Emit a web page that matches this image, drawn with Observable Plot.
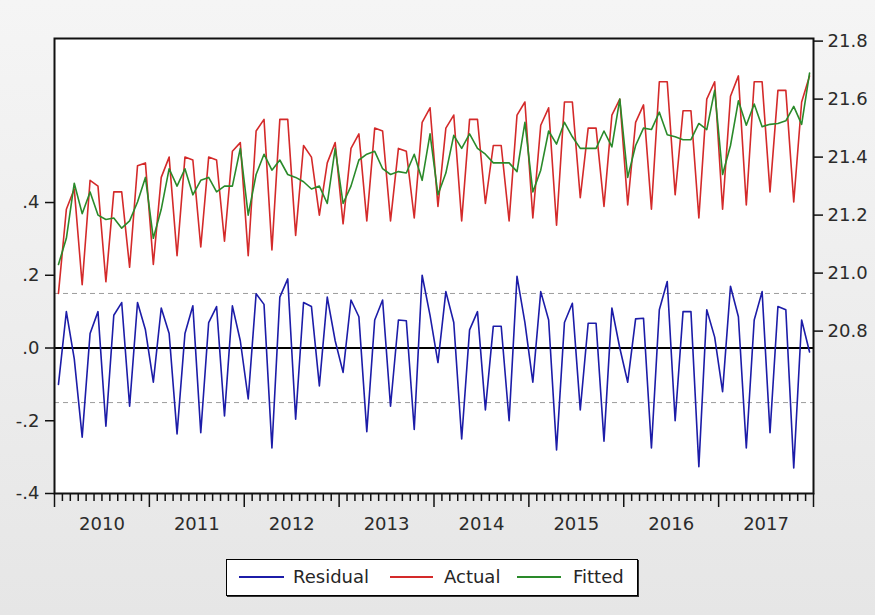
<!DOCTYPE html>
<html>
<head>
<meta charset="utf-8">
<script src="https://cdn.jsdelivr.net/npm/d3@7"></script>
<script src="https://cdn.jsdelivr.net/npm/@observablehq/plot@0.6"></script>
<style>
  html, body { margin: 0; padding: 0; }
  body { width: 875px; height: 615px; background: linear-gradient(#f5f5f5, #e6e6e6); font-family: 'DejaVu Sans', sans-serif; overflow: hidden; }
  #chart { position: absolute; left: 0; top: 0; width: 875px; height: 545px; }
  #chart svg { position: absolute; left: 0; top: 0; }
  #legend { position: absolute; left: 226px; top: 559px; width: 412px; height: 37px; box-sizing: border-box;
            border: 1.5px solid #000; background: #fff; box-shadow: 1px 1px 0 #333; }
  #legend .sw { position: absolute; top: 16px; height: 2px; }
  #legend .tx { position: absolute; top: 6px; font-size: 18px; line-height: 22px; color: #262626; }
</style>
</head>
<body>
<div id="chart"></div>
<div id="legend">
  <div class="sw" style="left:12px;width:45px;background:#1c1ca8"></div><div class="tx" style="left:66px">Residual</div>
  <div class="sw" style="left:163px;width:43px;background:#d42a2a"></div><div class="tx" style="left:217px">Actual</div>
  <div class="sw" style="left:290px;width:44px;background:#2a8a2a"></div><div class="tx" style="left:346px">Fitted</div>
</div>
<script>
// Monthly observations, 2010M01 - 2017M12
const years = ["2010","2011","2012","2013","2014","2015","2016","2017"];

const residual = [
 -0.10, 0.10, -0.03, -0.245, 0.04, 0.10, -0.215, 0.09, 0.125, -0.16, 0.125, 0.05,
 -0.094, 0.11, 0.04, -0.236, 0.04, 0.116, -0.233, 0.07, 0.114, -0.187, 0.116, 0.02,
 -0.14, 0.149, 0.12, -0.275, 0.14, 0.19, -0.196, 0.125, 0.114, -0.104, 0.14, 0.02,
 -0.067, 0.132, 0.086, -0.23, 0.077, 0.132, -0.16, 0.077, 0.075, -0.224, 0.20, 0.09,
 -0.04, 0.155, 0.07, -0.25, 0.05, 0.10, -0.17, 0.06, 0.06, -0.20, 0.197, 0.07,
 -0.094, 0.155, 0.077, -0.28, 0.07, 0.123, -0.17, 0.068, 0.068, -0.256, 0.11, 0.0,
 -0.094, 0.08, 0.082, -0.275, 0.105, 0.183, -0.20, 0.10, 0.10, -0.326, 0.105, 0.03,
 -0.12, 0.17, 0.086, -0.275, 0.077, 0.155, -0.233, 0.114, 0.105, -0.33, 0.077, -0.011
];

const actual = [
 20.93, 21.22, 21.29, 20.96, 21.32, 21.30, 20.97, 21.28, 21.28, 21.02, 21.37, 21.38,
 21.03, 21.33, 21.40, 21.06, 21.40, 21.39, 21.09, 21.40, 21.39, 21.11, 21.42, 21.45,
 21.06, 21.49, 21.53, 21.08, 21.53, 21.53, 21.13, 21.44, 21.40, 21.20, 21.38, 21.45,
 21.17, 21.43, 21.48, 21.18, 21.50, 21.49, 21.18, 21.43, 21.42, 21.19, 21.52, 21.57,
 21.23, 21.50, 21.545, 21.18, 21.53, 21.53, 21.24, 21.44, 21.44, 21.18, 21.545, 21.59,
 21.19, 21.51, 21.57, 21.165, 21.59, 21.59, 21.26, 21.50, 21.50, 21.23, 21.545, 21.60,
 21.235, 21.52, 21.58, 21.22, 21.66, 21.66, 21.27, 21.56, 21.56, 21.19, 21.60, 21.66,
 21.22, 21.61, 21.68, 21.235, 21.66, 21.66, 21.28, 21.63, 21.63, 21.245, 21.59, 21.68
];

const fitted = [
 21.03, 21.12, 21.31, 21.205, 21.28, 21.20, 21.185, 21.19, 21.155, 21.18, 21.245, 21.33,
 21.12, 21.22, 21.36, 21.30, 21.36, 21.27, 21.32, 21.33, 21.28, 21.30, 21.30, 21.43,
 21.20, 21.34, 21.41, 21.355, 21.39, 21.34, 21.33, 21.315, 21.29, 21.30, 21.24, 21.43,
 21.24, 21.30, 21.39, 21.41, 21.42, 21.36, 21.34, 21.35, 21.345, 21.41, 21.32, 21.48,
 21.27, 21.345, 21.475, 21.43, 21.48, 21.43, 21.41, 21.38, 21.38, 21.38, 21.35, 21.52,
 21.28, 21.355, 21.49, 21.445, 21.52, 21.47, 21.43, 21.43, 21.43, 21.49, 21.435, 21.60,
 21.33, 21.44, 21.50, 21.495, 21.555, 21.477, 21.47, 21.46, 21.46, 21.516, 21.495, 21.63,
 21.34, 21.44, 21.594, 21.51, 21.583, 21.505, 21.513, 21.516, 21.525, 21.575, 21.513, 21.69
];

const leftTicks = [-0.4, -0.2, 0, 0.2, 0.4];
const rightTicks = [20.8, 21.0, 21.2, 21.4, 21.6, 21.8];
const seBands = [-0.15, 0.15];

const rows = residual.map((r, i) => ({i, residual: r, actual: actual[i], fitted: fitted[i]}));

const W = 875, H = 545, ML = 54, MR = 62, MT = 38, MB = 52;
const n = residual.length;
const xDomain = [-0.5, n - 0.5];
const boundaries = d3.range(n + 1).map(m => m - 0.5);
const majorTicks = boundaries.filter((b, k) => k % 12 === 0);
const minorTicks = boundaries.filter((b, k) => k % 12 !== 0);
const yearCenters = years.map((y, k) => k * 12 + 5.5);
const fmtLeft = d => d === 0 ? ".0" : d.toFixed(1).replace("0.", ".");
const font = "'DejaVu Sans', sans-serif";

const left = Plot.plot({
  width: W, height: H, marginLeft: ML, marginRight: MR, marginTop: MT, marginBottom: MB,
  style: {background: "transparent", fontFamily: font, fontSize: "18px", color: "#2b2b2b", overflow: "visible"},
  x: {domain: xDomain, label: null},
  y: {domain: [-0.4, 0.851], label: null},
  marks: [
    Plot.frame({fill: "white", stroke: null}),
    Plot.ruleY(seBands, {stroke: "#9c9c9c", strokeWidth: 1, strokeDasharray: "5,4"}),
    Plot.ruleY([0], {stroke: "#000", strokeWidth: 2}),
    Plot.lineY(rows, {x: "i", y: "residual", stroke: "#1c1ca8", strokeWidth: 1.6}),
    Plot.axisY(leftTicks, {anchor: "left", tickSize: 9, tickPadding: 6, tickFormat: fmtLeft, stroke: "#111", strokeWidth: 1.5, label: null}),
    Plot.axisX(minorTicks, {anchor: "bottom", tickSize: 8, tickFormat: () => "", stroke: "#111", strokeWidth: 1.5, label: null}),
    Plot.axisX(majorTicks, {anchor: "bottom", tickSize: 14, tickFormat: () => "", stroke: "#111", strokeWidth: 1.5, label: null}),
    Plot.axisX(yearCenters, {anchor: "bottom", tickSize: 0, tickPadding: 24, tickFormat: d => years[Math.round((d - 5.5) / 12)], label: null}),
    Plot.frame({stroke: "#111", strokeWidth: 2})
  ]
});

const right = Plot.plot({
  width: W, height: H, marginLeft: ML, marginRight: MR, marginTop: MT, marginBottom: MB,
  style: {background: "transparent", fontFamily: font, fontSize: "18px", color: "#2b2b2b", overflow: "visible"},
  x: {domain: xDomain, axis: null, label: null},
  y: {domain: [20.240, 21.809], label: null},
  marks: [
    Plot.lineY(rows, {x: "i", y: "actual", stroke: "#d42a2a", strokeWidth: 1.6}),
    Plot.lineY(rows, {x: "i", y: "fitted", stroke: "#2a8a2a", strokeWidth: 1.6}),
    Plot.axisY(rightTicks, {anchor: "right", tickSize: 9, tickPadding: 5, tickFormat: d => d.toFixed(1), stroke: "#111", strokeWidth: 1.5, label: null})
  ]
});

const chart = document.getElementById("chart");
chart.appendChild(left);
chart.appendChild(right);
</script>
</body>
</html>
